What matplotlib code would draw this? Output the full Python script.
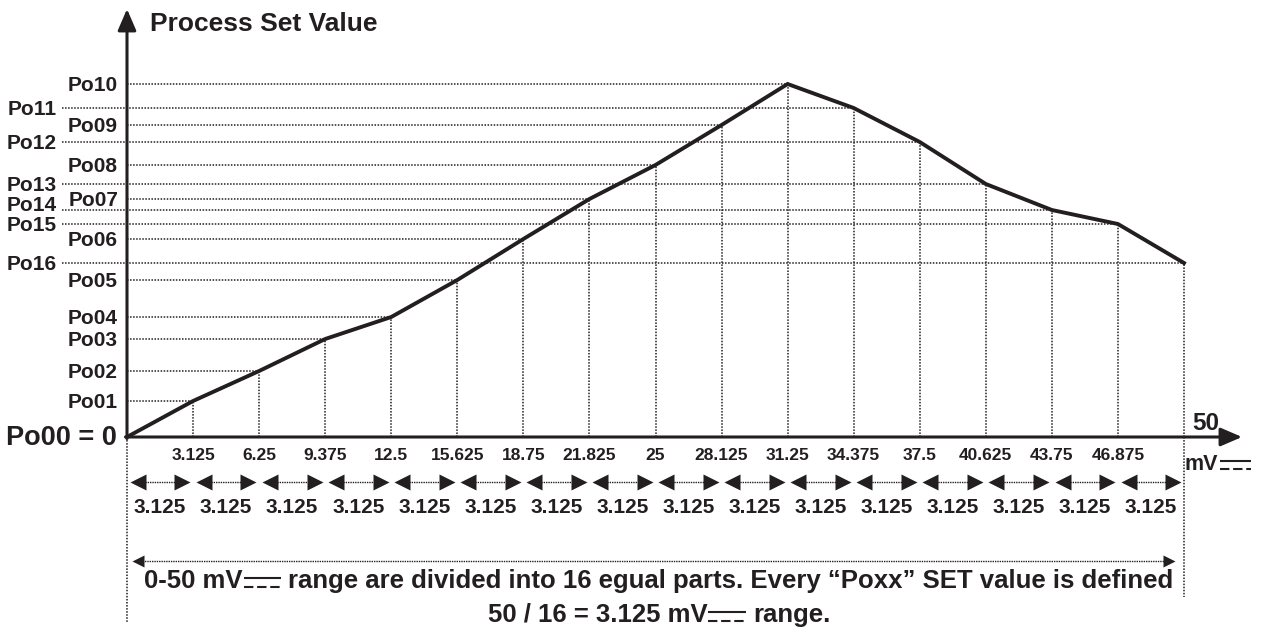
import matplotlib.pyplot as plt

plt.rcParams['font.family'] = ['Liberation Sans', 'DejaVu Sans']
plt.rcParams['font.weight'] = 'bold'

ink = '#231f20'

# 0-50 mV split into 16 parts, one set value per breakpoint
step = 50 / 16
mv_points = [i * step for i in range(17)]
set_values = [0, 36, 66, 98, 120, 157, 198, 238, 272, 312,
              353, 329, 295, 253, 227, 213, 174]
point_names = ['Po00', 'Po01', 'Po02', 'Po03', 'Po04', 'Po05', 'Po06', 'Po07', 'Po08',
               'Po09', 'Po10', 'Po11', 'Po12', 'Po13', 'Po14', 'Po15', 'Po16']
tick_labels = ['3.125', '6.25', '9.375', '12.5', '15.625', '18.75', '21.825', '25',
               '28.125', '31.25', '34.375', '37.5', '40.625', '43.75', '46.875']
part_labels = ['3.125'] * 16

PX = 21.14  # pixels per mV


def dx(px):
    return px / PX


fig = plt.figure(figsize=(12.63, 6.30), dpi=100)
ax = fig.add_axes([0, 0, 1, 1])
ax.set_xlim(-127 / PX, 1136 / PX)
ax.set_ylim(-193, 437)
ax.axis('off')

dot = dict(color=ink, lw=1.1, ls=(0, (1, 1)))


def cap_text(x, v, s, size, **kw):
    # place text so that the capitals are centred on v
    em = size * 100 / 72
    return ax.text(x, v - 0.716 * em / 2, s, fontsize=size, color=ink,
                   weight='bold', va='baseline', **kw)


# dotted guides from each breakpoint to both axes
for i in range(1, 17):
    x, v = mv_points[i], set_values[i]
    ax.plot([x, x], [0, v], **dot)
    x0 = -dx(65) if i >= 11 else 0
    ax.plot([x0, x], [v, v], **dot)
    if i >= 11:
        # Po14 sits a little higher so it clears Po15
        lift = 6 if i == 14 else 0
        cap_text(-dx(70), v + lift, point_names[i], 15, ha='right')
    else:
        cap_text(-dx(9), v, point_names[i], 15, ha='right')

ax.plot([0, 0], [0, -186], **dot)
ax.plot([50, 50], [0, -160], **dot)

ax.plot(mv_points, set_values, color=ink, lw=2.8, solid_joinstyle='miter', zorder=4)

# axes with arrow heads
head = dict(arrowstyle='-|>,head_length=0.65,head_width=0.28', mutation_scale=20,
            lw=2.2, color=ink, shrinkA=0, shrinkB=0)
ax.annotate('', xy=(0, 428), xytext=(0, -1.5), arrowprops=head, zorder=5)
ax.annotate('', xy=(dx(1115), 0), xytext=(-dx(1.5), 0), arrowprops=head, zorder=5)

ax.text(dx(23), 406, 'Process Set Value', fontsize=19, color=ink, weight='bold',
        va='baseline', ha='left')
ax.text(-dx(10), -8, 'Po00 = 0', fontsize=19.5, color=ink, weight='bold',
        va='baseline', ha='right')
ax.text(50 + dx(8), 7, '50', fontsize=17.5, color=ink, weight='bold', va='baseline')

for x, lab in zip(mv_points[1:16], tick_labels):
    cap_text(x, -17, lab, 12.5, ha='center')

# one double arrow and width label per part
ms = 11
half = ms * 100 / 72 / 2
for i in range(16):
    a, b = mv_points[i], mv_points[i + 1]
    ax.plot([a + dx(6), b - dx(6)], [-45, -45], color=ink, lw=1.0, ls=(0, (1, 0.7)))
    ax.plot([a + dx(3 + half)], [-45], marker='<', ms=ms, color=ink, mec='none')
    ax.plot([b - dx(3 + half)], [-45], marker='>', ms=ms, color=ink, mec='none')
    cap_text((a + b) / 2, -69, part_labels[i], 15, ha='center')

# full range arrow
ms2 = 8
half2 = ms2 * 100 / 72 / 2
ax.plot([dx(8), dx(1042)], [-124, -124], color=ink, lw=1.0, ls=(0, (1, 0.7)))
ax.plot([dx(5 + half2)], [-124], marker='<', ms=ms2, color=ink, mec='none')
ax.plot([dx(1048 - half2)], [-124], marker='>', ms=ms2, color=ink, mec='none')


def sign_text(x, base, before, after, size, center=False):
    # text with the DC sign drawn between two parts
    r = fig.canvas.get_renderer()
    em = size * 100 / 72
    kw = dict(fontsize=size, color=ink, weight='bold', va='baseline', ha='left')
    t1 = ax.text(0, base, before, **kw)
    t2 = ax.text(0, base, after, **kw) if after else None
    w1 = t1.get_window_extent(r).width
    w2 = t2.get_window_extent(r).width if t2 else 0
    sw = 1.45 * em
    gap = 0.28 * em
    total = w1 + 1 + sw + gap + w2
    left = x - dx(total / 2) if center else x
    t1.set_x(left)
    s0 = left + dx(w1 + 1)
    s1 = s0 + dx(sw)
    ax.plot([s0, s1], [base + 0.4 * em] * 2, color=ink, lw=1.5, solid_capstyle='butt')
    ax.plot([s0, s1], [base + 0.04 * em] * 2, color=ink, lw=1.5,
            ls=(0, (4.5, 1.8)), dash_capstyle='butt')
    if t2:
        t2.set_x(s1 + dx(gap))


sign_text(50 + dx(1), -33, 'mV', '', 15.5)
sign_text(dx(532), -151, '0-50 mV',
          'range are divided into 16 egual parts. Every \u201cPoxx\u201d SET value is defined',
          18.5, center=True)
sign_text(dx(532), -185, '50 / 16 = 3.125 mV', 'range.', 18.5, center=True)

fig.savefig('out.png', dpi=100)
